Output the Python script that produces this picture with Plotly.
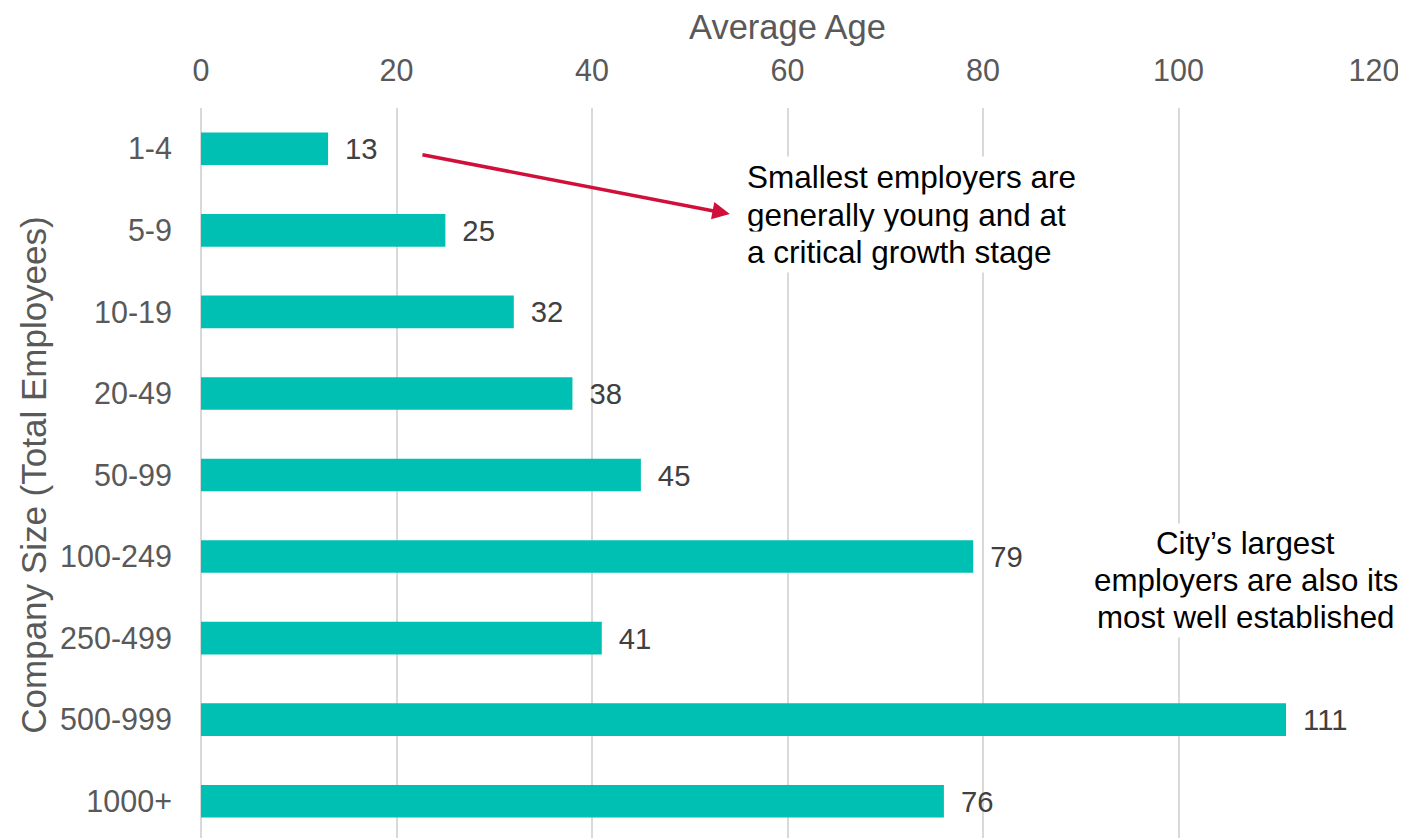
import plotly.graph_objects as go

categories = ["1-4", "5-9", "10-19", "20-49", "50-99", "100-249", "250-499", "500-999", "1000+"]
avg_age = [13, 25, 32, 38, 45, 79, 41, 111, 76]
x_ticks = [0, 20, 40, 60, 80, 100, 120]

note_small = ["Smallest employers are", "generally young and at", "a critical growth stage"]
note_large = ["City’s largest", "employers are also its", "most well established"]

FONT = "Liberation Sans, Arial, sans-serif"
TEAL = "#00BFB3"
GREY = "#595959"

fig = go.Figure(go.Bar(
    x=avg_age, y=categories, orientation="h",
    marker=dict(color=TEAL, line=dict(width=0)),
    width=0.4,
    text=["\u00a0\u2009" + str(v) for v in avg_age], textposition="outside",
    textfont=dict(family=FONT, size=30.5, color="#404040"),
    cliponaxis=False, hoverinfo="x+y",
))

fig.update_layout(
    width=1406, height=838,
    paper_bgcolor="white", plot_bgcolor="white",
    margin=dict(l=193, r=40, t=100, b=4),
    showlegend=False,
    font=dict(family=FONT, color=GREY),
    xaxis=dict(
        side="top", range=[0, 120], tickvals=x_ticks,
        showgrid=True, gridcolor="#D9D9D9", gridwidth=2,
        zeroline=True, zerolinecolor="#D9D9D9", zerolinewidth=2,
        showline=False,
        tickfont=dict(size=30.5, color=GREY), ticklabelstandoff=20,
        title=dict(text="Average Age", font=dict(size=34.5, color=GREY), standoff=6),
        automargin=False,
    ),
    yaxis=dict(
        autorange="reversed", showgrid=False, zeroline=False, showline=False,
        tickfont=dict(size=30.5, color=GREY), ticklabelstandoff=28,
        title=dict(text="Company Size (Total Employees)", font=dict(size=35, color=GREY), standoff=2),
        automargin=False,
    ),
    bargap=0.6,
)

fig.add_annotation(
    x=54.1, y=0.8, ax=22.5, ay=0.07, xref="x", yref="y", axref="x", ayref="y",
    text="", showarrow=True, arrowhead=2, arrowsize=1, arrowwidth=3.5, arrowcolor="#D0103A",
)

small_y = [0.35, 0.81, 1.27]
for line, yy in zip(note_small, small_y):
    fig.add_annotation(
        x=55.6, y=yy, xref="x", yref="y", xanchor="left", yanchor="middle",
        text=line, showarrow=False, align="left", bgcolor="white", borderpad=2,
        font=dict(family=FONT, size=31.5, color="#000000"),
    )

large_y = [4.84, 5.295, 5.75]
for line, yy in zip(note_large, large_y):
    fig.add_annotation(
        x=106.9, y=yy, xref="x", yref="y", xanchor="center", yanchor="middle",
        text=line, showarrow=False, align="center", bgcolor="white", borderpad=2,
        font=dict(family=FONT, size=31.3, color="#000000"),
    )

fig.write_html("out.html")
